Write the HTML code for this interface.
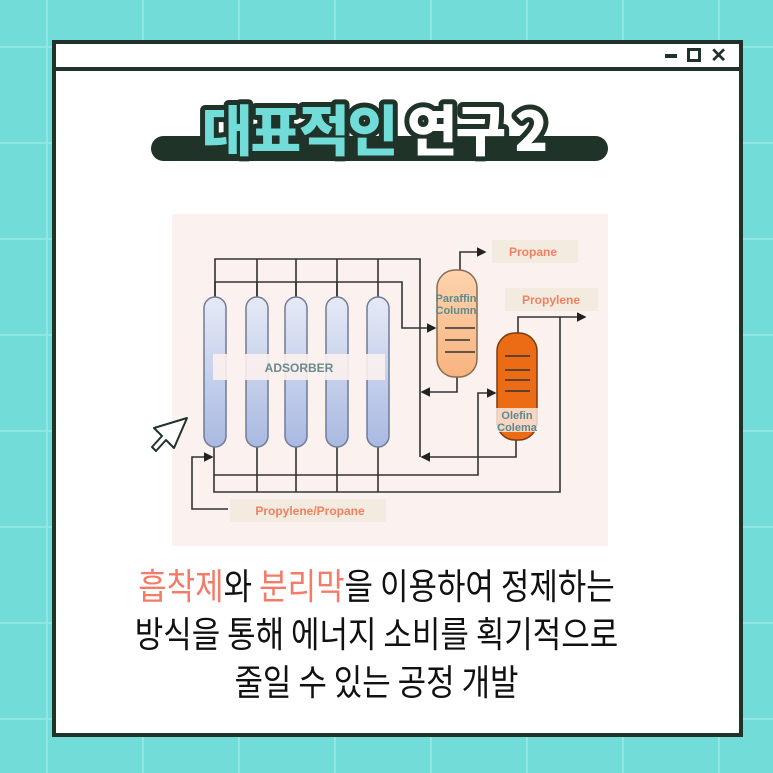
<!DOCTYPE html>
<html><head><meta charset="utf-8"><style>
body{margin:0;width:773px;height:773px;overflow:hidden;background:#72dcd9;position:relative;font-family:"Liberation Sans","Noto Sans CJK KR",sans-serif}
.grid{position:absolute;inset:0;background-image:linear-gradient(90deg,#8fe6e2 2px,transparent 2px),linear-gradient(180deg,#8fe6e2 2px,transparent 2px);background-size:96px 96px;background-position:46px 46px}
.win{position:absolute;left:52px;top:40px;width:683px;height:689px;border:4px solid #1f3328;background:#fff}
.bar{position:absolute;left:0;top:0;right:0;height:23px;border-bottom:4px solid #1f3328}
.pill{position:absolute;left:95px;top:92px;width:457px;height:25px;border-radius:13px;background:#1f3328}
.txt{position:absolute;left:-21px;width:683px;top:516px;text-align:center;font-family:"Noto Sans CJK KR",sans-serif;font-size:36px;line-height:48px;color:#111;transform:scaleX(0.86);transform-origin:center}
.r{color:#f47b68}
</style></head><body>
<div class="grid"></div>
<div class="win">
<div class="bar">
<div style="position:absolute;right:62px;top:10px;width:12px;height:4px;background:#1f3328"></div>
<div style="position:absolute;right:38px;top:4px;width:8px;height:8px;border:3px solid #1f3328"></div>
<div style="position:absolute;right:12px;top:-1px;font:bold 20px 'Liberation Sans';color:#1f3328">✕</div>
</div>
<div class="pill"></div>
<svg style="position:absolute;left:0;top:0" width="683" height="130">
<text x="318" y="107" text-anchor="middle" font-family="Noto Sans CJK KR" font-weight="900" font-size="55" letter-spacing="-2" stroke="#1f3328" stroke-width="10" stroke-linejoin="round" paint-order="stroke fill"><tspan fill="#72dcd9">대표적인</tspan><tspan fill="#fff"> 연구 2</tspan></text>
</svg>
<div class="txt"><span class="r">흡착제</span>와 <span class="r">분리막</span>을 이용하여 정제하는<br>방식을 통해 에너지 소비를 획기적으로<br>줄일 수 있는 공정 개발</div>
</div>
<svg style="position:absolute;left:0;top:0" width="773" height="773">
<defs>
<linearGradient id="b" x1="0" y1="0" x2="0" y2="1"><stop offset="0" stop-color="#e6eaf6"/><stop offset="1" stop-color="#a9b9e2"/></linearGradient>
<linearGradient id="p" x1="0" y1="0" x2="0" y2="1"><stop offset="0" stop-color="#fdd3ae"/><stop offset="1" stop-color="#f7b47f"/></linearGradient>
<marker id="a" markerWidth="6" markerHeight="6" refX="5" refY="3" orient="auto"><path d="M0,0L6,3L0,6z" fill="#222"/></marker>
</defs>
<rect x="172" y="214" width="436" height="332" fill="#fbf1ee"/>
<g fill="none" stroke="#333" stroke-width="1.6">
<path d="M215,297V259H420V457"/>
<path d="M257,297V259M296,297V259M337,297V259M378,297V259"/>
<path d="M215,297V282H402V328H435" marker-end="url(#a)"/>
<path d="M257,282V297M296,282V297M337,282V297"/>
<path d="M460,270V252H485" marker-end="url(#a)"/>
<path d="M457,377V392H422" marker-end="url(#a)"/>
<path d="M518,333V317H585" marker-end="url(#a)"/>
<path d="M516,440V457H422" marker-end="url(#a)"/>
<path d="M560,317V492H214V445"/>
<path d="M257,445V492M296,445V492M337,445V492M378,445V492"/>
<path d="M214,475H478V393H495" marker-end="url(#a)"/>
<path d="M228,509H192V457H212" marker-end="url(#a)"/>
</g>
<g stroke="#6f7c95" stroke-width="1.5" fill="url(#b)">
<rect x="204" y="297" width="22" height="150" rx="11"/>
<rect x="246" y="297" width="22" height="150" rx="11"/>
<rect x="285" y="297" width="22" height="150" rx="11"/>
<rect x="326" y="297" width="22" height="150" rx="11"/>
<rect x="367" y="297" width="22" height="150" rx="11"/>
</g>
<rect x="437" y="270" width="40" height="107" rx="18" fill="url(#p)" stroke="#8a6a50" stroke-width="1.5"/>
<rect x="497" y="333" width="40" height="107" rx="18" fill="#ec6c16" stroke="#7a3a10" stroke-width="1.5"/>
<g stroke="#333" stroke-width="1.5"><path d="M445,328H475M445,340H470M445,352H475M505,356H530M505,370H530M505,380H530M505,391H530"/></g>
<rect x="213" y="354" width="172" height="26" fill="#fbf1ee" opacity=".9"/>
<g font-family="Liberation Sans" font-weight="bold" text-anchor="middle">
<text x="299" y="372" font-size="12" fill="#6a8a8c">ADSORBER</text>
<text x="456" y="302" font-size="11" fill="#5a8a8e">Paraffin</text>
<text x="456" y="314" font-size="11" fill="#5a8a8e">Column</text>
<rect x="490" y="408" width="54" height="24" fill="#fbf1ee" opacity=".8"/>
<text x="517" y="419" font-size="11" fill="#5a8a8e">Olefin</text>
<text x="517" y="431" font-size="11" fill="#5a8a8e">Colema</text>
<rect x="492" y="240" width="86" height="23" fill="#f3ebe0"/>
<text x="533" y="256" font-size="12" fill="#f08060">Propane</text>
<rect x="505" y="288" width="93" height="23" fill="#f3ebe0"/>
<text x="551" y="304" font-size="12" fill="#f08060">Propylene</text>
<rect x="230" y="499" width="156" height="23" fill="#f3ebe0"/>
<text x="310" y="515" font-size="12" fill="#f08060">Propylene/Propane</text>
</g>
<path d="M187,418L154,428L162,436L152,447L156,451L166,440L174,448Z" fill="#fff" stroke="#1f3328" stroke-width="2" stroke-linejoin="round"/>
</svg>
</body></html>
